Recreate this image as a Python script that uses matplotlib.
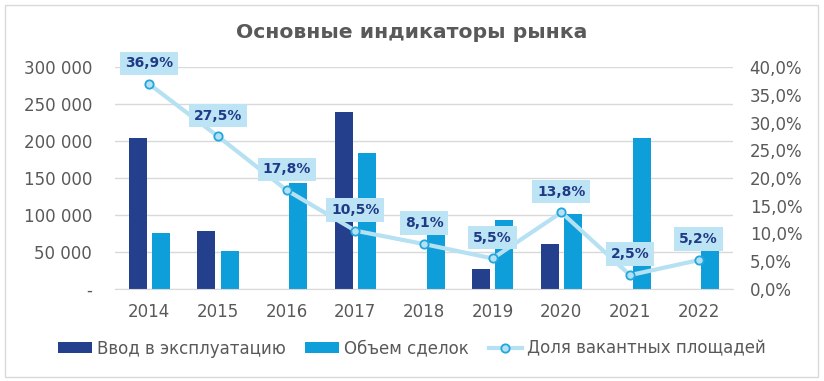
import numpy as np
import matplotlib.pyplot as plt
from matplotlib.patches import Rectangle
from matplotlib.ticker import FuncFormatter

# Data
years = ["2014", "2015", "2016", "2017", "2018", "2019", "2020", "2021", "2022"]
commissioning = [204000, 78500, 0, 239000, 0, 27000, 61000, 0, 0]
deals = [75000, 51500, 143000, 184000, 105500, 93000, 101500, 204000, 51500]
vacancy = [36.9, 27.5, 17.8, 10.5, 8.1, 5.5, 13.8, 2.5, 5.2]

dark_blue = "#243F8C"
light_blue = "#0E9FDA"
line_col = "#B5E1F3"
grey = "#595959"

plt.rcParams['font.family'] = ['DejaVu Sans']

fig = plt.figure(figsize=(8.24, 3.81), dpi=100)
fig.patches.append(Rectangle((5 / 824, 4 / 381), 813 / 824, 372 / 381,
                             transform=fig.transFigure, fill=False,
                             edgecolor="#D9D9D9", linewidth=1))

ax = fig.add_axes([0.1396, 0.2415, 0.75, 0.5826])
ax2 = ax.twinx()

x = np.arange(len(years))
w = 0.26
ax.bar(x - 0.17, commissioning, w, color=dark_blue, label="Ввод в эксплуатацию", zorder=2)
ax.bar(x + 0.17, deals, w, color=light_blue, label="Объем сделок", zorder=2)

ax.set_xlim(-0.5, len(years) - 0.5)
ax.set_ylim(0, 300000)
ax.set_yticks(np.arange(0, 300001, 50000))
ax.yaxis.set_major_formatter(FuncFormatter(
    lambda v, p: "-" if v == 0 else f"{int(v):,}".replace(",", " ")))
ax.set_xticks(x)
ax.set_xticklabels(years)
ax.grid(axis="y", color="#D9D9D9", linewidth=1, zorder=0)
ax.set_axisbelow(True)

ax2.set_ylim(0, 40)
ax2.set_yticks(np.arange(0, 40.1, 5))
ax2.yaxis.set_major_formatter(FuncFormatter(lambda v, p: f"{v:.1f}%".replace(".", ",")))
ln, = ax2.plot(x, vacancy, color=line_col, linewidth=3, marker="o", markersize=6,
               markerfacecolor="#B5E1F3", markeredgecolor="#22A6DE", markeredgewidth=1.3,
               label="Доля вакантных площадей", zorder=3)

for xi, v in zip(x, vacancy):
    ax2.annotate(f"{v:.1f}%".replace(".", ","), (xi, v), xytext=(0, 15),
                 textcoords="offset points", ha="center", va="center",
                 fontsize=10, fontweight="bold", color="#1F3B87",
                 bbox=dict(boxstyle="square,pad=0.35", facecolor="#BDE4F4", edgecolor="none"),
                 annotation_clip=False, zorder=5)

for a in (ax, ax2):
    for s in a.spines.values():
        s.set_visible(False)
    a.tick_params(length=0, labelsize=12, colors=grey)
ax.spines["bottom"].set_visible(True)
ax.spines["bottom"].set_color("#D9D9D9")
ax.tick_params(axis="x", pad=10)
ax.tick_params(axis="y", pad=16.5)
ax2.tick_params(axis="y", pad=12)

fig.text(0.5, 0.915, "Основные индикаторы рынка", ha="center", va="center",
         fontsize=14.7, fontweight="bold", color=grey)

h1, l1 = ax.get_legend_handles_labels()
fig.legend(h1 + [ln], l1 + [ln.get_label()], loc="center", bbox_to_anchor=(0.5, 0.085),
           ncol=3, frameon=False, labelcolor=grey, handlelength=2.0,
           handleheight=0.6, handletextpad=0.3, columnspacing=1.2,
           prop={'family': ['DejaVu Sans'], 'size': 12})

fig.savefig("out.png", dpi=100)
